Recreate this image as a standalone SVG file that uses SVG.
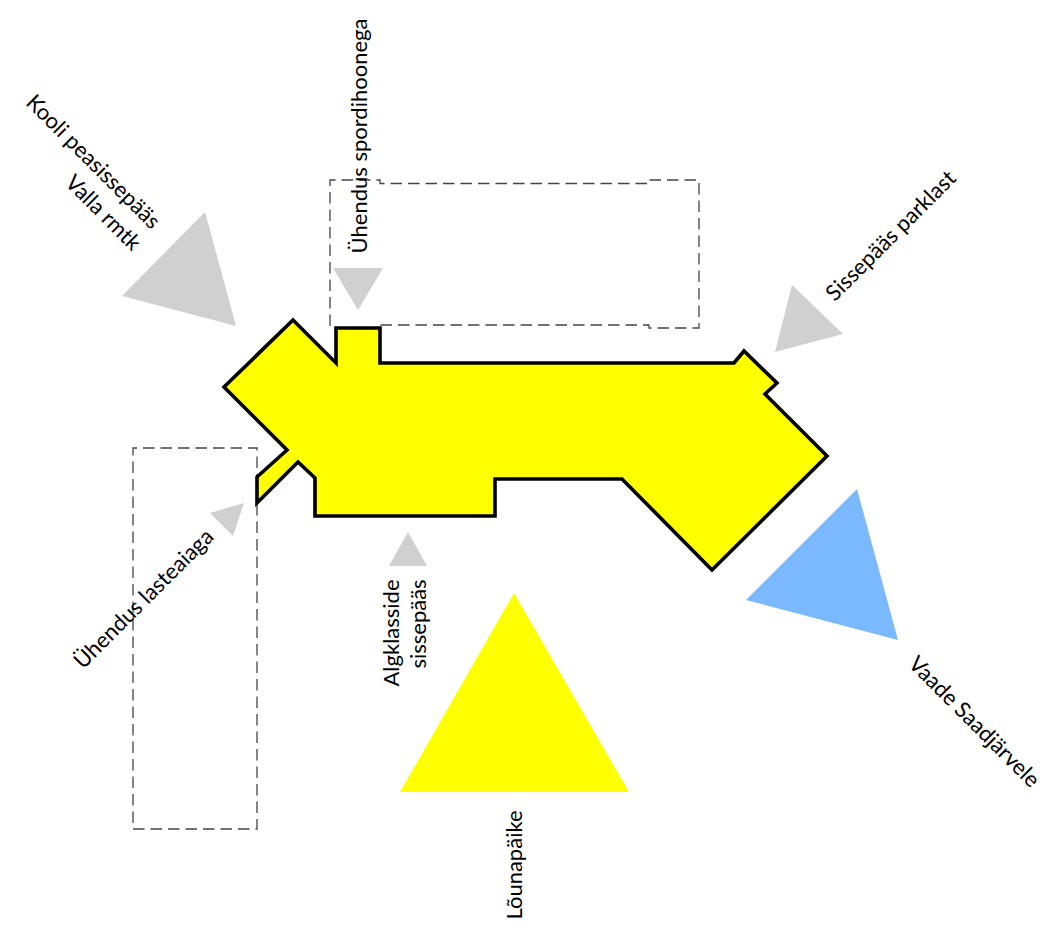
<svg xmlns="http://www.w3.org/2000/svg" width="1042" height="929" viewBox="0 0 1042 929">
<style>
text{font-family:"Lato","Open Sans","Liberation Sans",sans-serif;font-size:22px;fill:#000;text-anchor:middle}
.g{fill:#d0d0d0}
.d{fill:none;stroke:#444;stroke-width:1.3;stroke-dasharray:11.5 6}
</style>
<rect width="1042" height="929" fill="#fff"/>
<g id="outlines">
<path class="d" d="M330 326V180H380V183.500H649V180H699V328H649V325H380"/>
<path class="d" d="M257 504V829H133V448H257V477"/>
</g>
<g id="building"><path d="M293 320L336 363V328H380V363H734L744 351L777 383L765 394L827 456L712 570L622 479H495V516H315V478L298 462L257 503V477L287 450L224 387Z" fill="#ff0" stroke="#000" stroke-width="3.6" stroke-linejoin="miter"/></g>
<g id="arrows">
<polygon class="g" points="205,212 236,326 122,296"/>
<polygon class="g" points="333,268 383,268 358,310"/>
<polygon class="g" points="792,285 843,334 775,352"/>
<polygon class="g" points="244,503 233,536 210,513"/>
<polygon class="g" points="408,532 427,566 389,566"/>
<polygon points="857,489 898,640 746,600" fill="#7ab9ff"/>
<polygon points="514,593 629,792 400,792" fill="#ff0"/>
</g>
<g id="labels">
<text transform="translate(88,167) rotate(45)">Kooli peasissepääs</text>
<text transform="translate(98,218) rotate(45)">Valla rmtk</text>
<text transform="translate(367,136) rotate(-90)">Ühendus spordihoonega</text>
<text transform="translate(896,241) rotate(-45)">Sissepääs parklast</text>
<text transform="translate(149,604) rotate(-45)">Ühendus lasteaiaga</text>
<text transform="translate(399,633) rotate(-90)">Algklasside</text>
<text transform="translate(426,624) rotate(-90)">sissepääs</text>
<text transform="translate(969,727) rotate(45)">Vaade Saadjärvele</text>
<text transform="translate(522,865) rotate(-90)">Lõunapäike</text>
</g>
</svg>
